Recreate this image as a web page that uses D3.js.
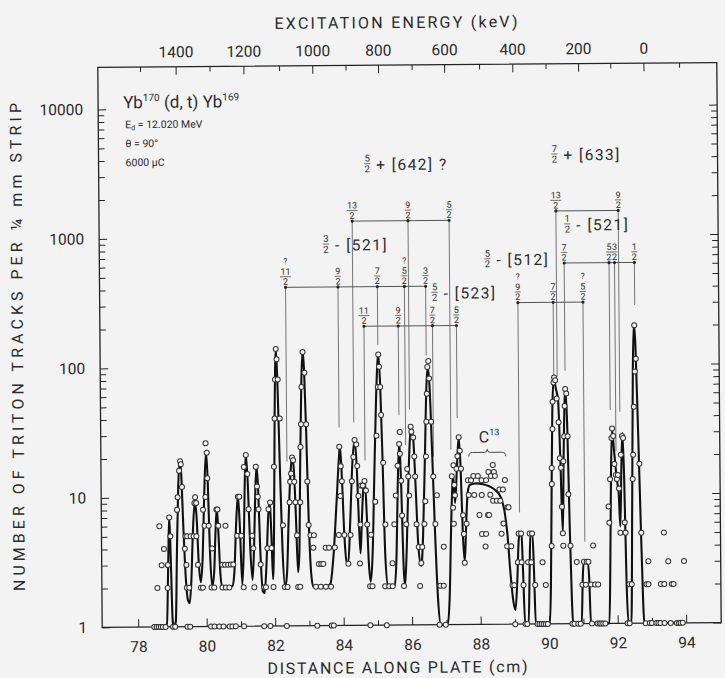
<!DOCTYPE html>
<html><head><meta charset="utf-8">
<script src="https://cdn.jsdelivr.net/npm/d3@7"></script>
<style>
html,body{margin:0;padding:0;background:#f3f3f3;}
svg{display:block;}
text{font-family:Roboto,"DejaVu Sans",sans-serif;fill:#2b2b2b;}
</style></head><body>
<svg id="chart" width="725" height="678"></svg>
<script>
// ---------- DATA ----------
const xTickMajor = [78,80,82,84,86,88,90,92,94];
const xTickMinor = [79,81,83,85,87,89,91,93];
const yTickMajor = [1,10,100,1000,10000];
const yTickMinor = [2,3,4,5,6,7,8,9,20,30,40,50,60,70,80,90,200,300,400,500,600,700,800,900,2000,3000,4000,5000,6000,7000,8000,9000];
const energyTicks = [1500,1400,1300,1200,1100,1000,900,800,700,600,500,400,300,200,100,0,-100];
const energyCm = [78.18,79.22,80.21,81.20,82.24,83.21,84.18,85.13,86.11,87.06,88.08,89.05,90.02,90.97,91.91,92.88,93.92];
const energyLabels = [1400,1200,1000,800,600,400,200,0];

// fitted curve (cm, counts)
const curveNodes = [
[78.70,1],[78.84,1.05],[78.89,3],[78.93,7.2],[78.97,3],[79.01,1.1],[79.05,1],
[79.10,1.1],[79.15,4],[79.20,12],[79.25,19.4],[79.29,15],[79.34,6],[79.40,2.4],[79.46,1.6],[79.51,1.52],[79.56,2.2],[79.62,5.5],[79.68,9.2],[79.73,7],[79.78,3.2],[79.84,2.2],[79.90,3.5],[79.96,11],[80.02,22.4],[80.06,14],[80.11,4],[80.17,2.04],[80.23,2.6],[80.28,5.5],[80.32,8.2],[80.36,5.5],[80.41,2.6],[80.46,2.05],[80.60,2.0],[80.76,2.05],[80.82,2.6],[80.88,6],[80.94,10.2],[80.99,6],[81.05,2.1],[81.10,4],[81.14,12],[81.18,21.3],[81.23,13],[81.29,4],[81.35,2.27],[81.40,4],[81.45,11],[81.49,17.2],[81.53,12],[81.58,4],[81.65,1.85],[81.70,1.8],[81.76,3],[81.82,7],[81.87,9.1],[81.91,5],[81.95,2.3],[81.99,6],[82.03,40],[82.08,139],[82.12,75],[82.17,18],[82.23,4],[82.30,2.0],[82.36,2.6],[82.42,7],[82.48,15],[82.54,20.3],[82.58,16],[82.63,7],[82.68,2.6],[82.72,3.5],[82.77,20],[82.82,80],[82.86,133],[82.90,95],[82.95,30],[83.00,7],[83.06,2.6],[83.12,2.0],[83.50,2.0],[83.62,2.1],[83.72,3.5],[83.82,9],[83.90,20],[83.93,24.3],[83.98,14],[84.04,5],[84.10,3.1],[84.15,3.05],[84.21,6],[84.29,18],[84.36,27],[84.42,16],[84.47,6],[84.51,3.6],[84.56,7],[84.61,12],[84.65,13.2],[84.70,7],[84.75,3],[84.80,2.17],[84.86,3.5],[84.93,15],[85.00,60],[85.07,124],[85.12,70],[85.17,20],[85.23,3.5],[85.30,2.05],[85.50,2.0],[85.56,3.5],[85.61,12],[85.66,25.3],[85.71,12],[85.76,3],[85.80,2.0],[85.86,4],[85.93,15],[86.01,33.6],[86.07,28],[86.13,12],[86.20,4],[86.28,2.85],[86.34,5],[86.41,20],[86.47,70],[86.51,98.4],[86.56,70],[86.62,22],[86.69,5],[86.76,1.6],[86.84,1.0],[87.04,1.0],[87.10,1.6],[87.17,7],[87.23,14.3],[87.28,8.7],[87.34,16],[87.40,28.2],[87.45,16],[87.50,5],[87.55,3.06],[87.60,6],[87.65,10.5],[87.72,12],[87.90,12.3],[88.10,12.1],[88.30,11.6],[88.50,10.6],[88.62,9.5],[88.72,7.5],[88.80,5],[88.88,2.5],[88.96,1.5],[89.02,1.29],[89.08,2.2],[89.13,4.5],[89.17,5.08],[89.21,5],[89.25,2.5],[89.30,1.0],[89.40,1.0],[89.44,2.5],[89.47,5],[89.53,5],[89.57,2.5],[89.61,1.0],[90.02,1.0],[90.06,2],[90.10,10],[90.14,45],[90.19,78.8],[90.25,65],[90.31,53.5],[90.36,20],[90.42,5.0],[90.46,20],[90.52,63.9],[90.57,35],[90.62,6],[90.67,1.5],[90.70,1.0],[90.95,1.0],[90.99,2.2],[91.02,3.0],[91.14,3.0],[91.18,2.2],[91.22,1.0],[91.76,1.0],[91.80,3],[91.84,15],[91.88,31.5],[91.93,22],[92.01,12.8],[92.06,10],[92.10,5.6],[92.14,15],[92.18,29.6],[92.22,14],[92.27,2],[92.32,1.0],[92.40,1.0],[92.45,8],[92.50,90],[92.54,208],[92.58,140],[92.64,30],[92.71,4],[92.78,1.0],[93.90,1.0]
];

// measured points (cm, counts); 0 = empty strip, drawn on the axis
const zeroCm = [78.47,78.54,78.60,78.66,78.72,78.80,79.02,79.08,79.44,79.52,80.13,80.23,80.37,80.49,80.67,80.75,80.85,81.09,81.68,81.86,82.34,83.23,83.65,83.71,84.78,85.26,86.80,86.98,89.01,89.31,89.36,89.66,89.72,89.78,89.84,89.90,89.96,90.68,90.74,90.85,90.92,91.25,91.41,91.47,91.52,91.58,91.64,92.29,92.35,92.82,92.94,93.00,93.13,93.19,93.25,93.37,93.55,93.73,93.79,93.84,93.90];
const countPoints = [
[78.57,2],[78.64,6],[78.70,3],[78.77,4],[78.87,2],[78.88,3],[78.93,7],[78.96,5],
[79.16,8],[79.18,10],[79.23,16],[79.26,19],[79.28,18],[79.31,12],
[79.38,4],[79.40,5],[79.45,5],[79.42,3],[79.43,2],[79.50,2],[79.55,5],
[79.64,5],[79.67,9],[79.69,10],[79.72,9],[79.72,5],[79.76,3],[79.84,2],[79.90,2],
[79.92,8],[79.96,6],[79.99,10],[80.01,26],[80.04,22],[80.05,14],[80.08,6],[80.15,2],[80.18,4],[80.23,2],
[80.31,8],[80.34,8],[80.36,6],
[80.47,3],[80.55,3],[80.64,3],[80.72,3],[80.79,3],[80.47,2],[80.57,2],[80.67,2],[80.57,6],
[80.91,5],[80.94,10],[80.98,10],[81.03,5],[81.09,2],
[81.12,17],[81.18,21],[81.22,15],[81.25,8],[81.35,5],[81.38,4],[81.40,2],
[81.47,17],[81.50,12],[81.52,10],[81.54,8],[81.59,3],[81.69,2],[81.74,2],
[81.79,4],[81.83,8],[81.88,9],[81.91,4],[81.96,2],
[82.00,17],[82.03,40],[82.05,80],[82.08,138],[82.10,115],[82.13,80],[82.18,40],[82.25,6],[82.29,2],[82.37,2],
[82.45,9],[82.47,13],[82.50,15],[82.53,20],[82.56,19],[82.59,13],[82.62,9],[82.66,5],[82.68,2],[82.74,2],
[82.76,9],[82.78,24],[82.80,36],[82.82,70],[82.86,130],[82.91,90],[82.95,36],[82.97,13],[83.00,6],[83.05,5],
[83.13,4],[83.15,5],[83.20,2],[83.29,3],[83.36,3],[83.42,3],[83.49,4],[83.59,4],[83.34,2],[83.49,2],[83.64,2],
[83.76,4],[83.88,5],[83.91,24],[83.93,10],[83.95,17],[83.98,13],[84.04,5],[84.15,3],
[84.22,5],[84.27,13],[84.32,20],[84.36,27],[84.41,25],[84.43,17],[84.46,10],[84.51,6],[84.49,3],
[84.54,12],[84.59,12],[84.64,13],[84.68,11],[84.71,6],[84.82,5],[84.78,2],[84.85,2],
[84.95,9],[85.00,29],[85.05,69],[85.07,123],[85.09,99],[85.12,69],[85.14,42],[85.19,18],[85.24,6],[85.22,2],[85.34,2],[85.44,2],[85.44,3],
[85.50,6],[85.55,10],[85.61,17],[85.66,25],[85.68,31],[85.68,21],[85.71,13],[85.73,7],[85.77,2],
[85.85,6],[85.89,16],[85.92,14],[85.94,10],[86.00,34],[86.02,31],[86.07,28],[86.10,20],[86.12,14],[86.15,6],
[86.21,4],[86.31,4],[86.24,2],[86.28,3],
[86.38,6],[86.41,9],[86.44,20],[86.46,37],[86.48,61],[86.50,98],[86.53,109],[86.55,80],[86.60,37],[86.65,14],[86.70,6],[86.75,10],
[86.83,2],[86.93,2],[86.94,4],
[87.19,14],[87.22,8],[87.24,17],[87.24,6],[87.26,12],[87.28,10],[87.33,16],[87.36,20],[87.40,28],[87.43,22],[87.46,16],[87.51,7],[87.53,5],[87.55,3],[87.61,6],
[87.66,13],[87.68,10],[87.75,13],[87.82,14],[87.84,10],[87.95,14],[87.99,7],[88.06,13],[88.06,10],[88.06,5],[88.16,4],[88.18,5],[88.19,13],[88.24,7],[88.27,7],[88.26,15],[88.31,10],[88.33,14],[88.39,17],[88.39,9],[88.42,15],[88.45,14],[88.50,9],[88.58,11],[88.60,9],[88.63,5],[88.68,11],[88.69,6],[88.74,13],[88.79,4],[88.81,8],[88.84,8],[88.91,4],[88.94,2],[88.99,2],
[89.10,3],[89.13,5],[89.20,5],[89.21,3],[89.26,2],[89.40,3],[89.45,5],[89.52,5],[89.49,3],[89.60,2],[89.82,3],[89.91,2],
[90.09,4],[90.11,12],[90.11,16],[90.14,32],[90.15,52],[90.18,73],[90.20,80],[90.23,76],[90.27,55],[90.32,36],[90.35,19],[90.38,16],[90.40,8],[90.42,5],[90.43,4],
[90.45,18],[90.48,28],[90.50,48],[90.52,65],[90.55,60],[90.58,28],[90.59,10],[90.64,4],[90.82,3],
[90.98,2],[91.03,3],[91.11,3],[91.16,3],[91.08,2],[91.23,2],[91.30,4],[91.35,2],[91.44,2],
[91.76,8],[91.78,6],[91.81,13],[91.86,27],[91.88,32],[91.91,28],[91.94,17],[91.98,14],[92.01,13],[92.04,14],[92.07,11],[92.10,5],[92.13,20],[92.17,28],[92.20,27],[92.23,6],[92.25,5],[92.35,2],[92.42,2],
[92.47,13],[92.49,20],[92.52,47],[92.56,88],[92.59,110],[92.55,200],[92.67,17],[92.71,5],
[92.85,2],[92.91,2],[92.91,3],[93.27,2],[93.37,2],[93.37,5],[93.49,3],[93.59,2],[93.64,2],[93.95,3]
];

// level scheme annotations
const bandNum = ["5","5","3","7","1","5"];
const bandText = ["+ [642] ?","- [523]","- [521]","+ [633]","- [521]","- [512]"];
const bandCount = [1325, 412, 204, 1543, 611, 304];           // height of the band bar
const bandLabelCm = [84.79, 86.73, 83.57, 90.26, 90.62, 88.28];
const bandLabelCount = [3266, 329, 787, 3782, 1089, 592];
const levelBand = [0,0,0, 1,1,1,1,1, 2,2,2,2, 3,3, 4,4,4,4, 5,5,5];
const levelCm = [84.34,85.97,87.17, 82.38,83.91,85.06,85.85,86.47, 84.66,85.66,86.66,87.36, 90.29,92.11, 90.52,91.83,91.99,92.57, 89.16,90.19,91.06];
const levelSpin = ["13/2","9/2","5/2", "11/2","9/2","7/2","5/2","3/2", "11/2","9/2","7/2","5/2", "13/2","9/2", "7/2","5/2","3/2","1/2", "9/2","7/2","5/2"];
const levelEnd = [37,46,22.5, 18.6,33.8,146,24.5,120, 18.8,41.8,19.9,39.4, 81,43, 90,44.4,21.3,287, 7.3,78,4.3];
const levelQuery = [0,0,0, 1,0,0,1,0, 0,0,0,0, 0,0, 0,0,0,0, 1,0,1];
const c13Range = [87.69, 88.77];
const c13Count = 21.3;

// ---------- DRAW ----------
const W=725,H=678;
const frame={l:100,r:719,t:65,b:625};
const x=d3.scaleLinear().domain([78,94]).range([136,684]);
const y=d3.scaleLog().domain([1,10000]).range([625,107]);
const eScale=d3.scaleLinear().domain(energyTicks).range(energyCm.map(c=>x(c)));
const ink="#232323";

const svg=d3.select('#chart');
svg.append('rect').attr('width',W).attr('height',H).attr('fill','#f3f3f3');
const g=svg.append('g').attr('transform','rotate(-0.45,408,345)');

function styleAxis(sel,fs){
  sel.select('.domain').remove();
  sel.attr('font-family',null).attr('font-size',null);
  sel.selectAll('line').attr('stroke',ink).attr('stroke-width',1);
  sel.selectAll('text').attr('font-size',fs).attr('fill','#2b2b2b');
}
// bottom
g.append('g').attr('transform',`translate(0,${frame.b})`)
 .call(d3.axisBottom(x).tickValues(xTickMajor).tickSize(-8).tickPadding(14).tickFormat(d3.format('d'))).call(s=>styleAxis(s,15.5));
g.append('g').attr('transform',`translate(0,${frame.b})`)
 .call(d3.axisBottom(x).tickValues(xTickMinor).tickSize(-5).tickFormat('')).call(s=>styleAxis(s,15.5));
// top (energy)
g.append('g').attr('transform',`translate(0,${frame.t})`)
 .call(d3.axisTop(eScale).tickValues(energyLabels).tickSize(-8).tickPadding(9.5).tickFormat(d3.format('d'))).call(s=>styleAxis(s,15.5));
g.append('g').attr('transform',`translate(0,${frame.t})`)
 .call(d3.axisTop(eScale).tickValues(energyTicks.filter(e=>!energyLabels.includes(e))).tickSize(-5).tickFormat('')).call(s=>styleAxis(s,15.5));
// left
g.append('g').attr('transform',`translate(${frame.l},0)`)
 .call(d3.axisLeft(y).tickValues(yTickMajor).tickSize(-8).tickPadding(15).tickFormat(d3.format('d'))).call(s=>styleAxis(s,15.5));
g.append('g').attr('transform',`translate(${frame.l},0)`)
 .call(d3.axisLeft(y).tickValues(yTickMinor).tickSize(-6).tickFormat('')).call(s=>styleAxis(s,15.5));
// right
g.append('g').attr('transform',`translate(${frame.r},0)`)
 .call(d3.axisRight(y).tickValues(yTickMajor).tickSize(-8).tickFormat('')).call(s=>styleAxis(s,15.5));
g.append('g').attr('transform',`translate(${frame.r},0)`)
 .call(d3.axisRight(y).tickValues(yTickMinor).tickSize(-6).tickFormat('')).call(s=>styleAxis(s,15.5));

// frame
g.append('rect').attr('x',frame.l).attr('y',frame.t).attr('width',frame.r-frame.l).attr('height',frame.b-frame.t)
 .attr('fill','none').attr('stroke',ink).attr('stroke-width',1.3);

// annotation lines
const ann=g.append('g');
bandCount.forEach((c,i)=>{
  const xs=levelCm.filter((_,j)=>levelBand[j]===i).map(v=>x(v));
  ann.append('line').attr('x1',d3.min(xs)).attr('x2',d3.max(xs)).attr('y1',y(c)).attr('y2',y(c))
    .attr('stroke','#444').attr('stroke-width',0.9);
});
function frac(sel,cx,base,num,den,fs,sw){
  sel.append('text').attr('x',cx).attr('y',base-fs*1.12).attr('text-anchor','middle').attr('font-size',fs).text(num);
  const w=Math.max(num.length,den.length)*fs*0.55+1;
  sel.append('line').attr('x1',cx-w/2).attr('x2',cx+w/2).attr('y1',base-fs*0.9).attr('y2',base-fs*0.9).attr('stroke','#333').attr('stroke-width',sw||0.7);
  sel.append('text').attr('x',cx).attr('y',base).attr('text-anchor','middle').attr('font-size',fs).text(den);
}
levelCm.forEach((c,j)=>{
  const yy=y(bandCount[levelBand[j]]);
  ann.append('line').attr('x1',x(c)).attr('x2',x(c)).attr('y1',yy).attr('y2',y(levelEnd[j]))
    .attr('stroke','#555').attr('stroke-width',0.8);
  ann.append('circle').attr('cx',x(c)).attr('cy',yy).attr('r',1.6).attr('fill',ink);
  const [n,d]=levelSpin[j].split('/');
  frac(ann,x(c),yy-2.5,n,d,9);
  if(levelQuery[j]) ann.append('text').attr('x',x(c)).attr('y',yy-23).attr('text-anchor','middle').attr('font-size',8.5).text('?');
});
bandText.forEach((t,i)=>{
  const cx=x(bandLabelCm[i]), b=y(bandLabelCount[i]);
  frac(ann,cx,b+2,bandNum[i],"2",9.5);
  ann.append('text').attr('x',cx+9).attr('y',b).attr('font-size',15.5).attr('letter-spacing',1.5).text(t);
});
// C13 brace + label
{
  const x0=x(c13Range[0]), x1=x(c13Range[1]), xm=(x0+x1)/2, yb=y(c13Count);
  ann.append('path').attr('d',`M${x0},${yb+4} Q${x0},${yb} ${x0+4},${yb} L${xm-3},${yb} Q${xm},${yb} ${xm},${yb-3} Q${xm},${yb} ${xm+3},${yb} L${x1-4},${yb} Q${x1},${yb} ${x1},${yb+4}`)
    .attr('fill','none').attr('stroke','#333').attr('stroke-width',0.9);
  const t=ann.append('text').attr('x',xm+2).attr('y',yb-10).attr('text-anchor','middle').attr('font-size',16);
  t.append('tspan').text('C');
  t.append('tspan').attr('font-size',9).attr('dy',-7).text('13');
}

// curve
const line=d3.line().x(d=>x(d[0])).y(d=>y(d[1])).curve(d3.curveMonotoneX);
g.append('path').datum(curveNodes).attr('d',line).attr('fill','none').attr('stroke','#111').attr('stroke-width',2.1).attr('stroke-linejoin','round');

// points
const pts=g.append('g');
pts.selectAll('circle.z').data(zeroCm).join('circle').attr('class','z')
  .attr('cx',d=>x(d)).attr('cy',y(1)).attr('r',2.5).attr('fill','#f3f3f3').attr('stroke','#333').attr('stroke-width',1);
pts.selectAll('circle.p').data(countPoints).join('circle').attr('class','p')
  .attr('cx',d=>x(d[0])).attr('cy',d=>y(d[1])).attr('r',2.5).attr('fill','#f3f3f3').attr('stroke','#333').attr('stroke-width',1);

// titles
g.append('text').attr('x',277).attr('y',28).attr('font-size',16).attr('textLength',243).attr('lengthAdjust','spacing').text('EXCITATION ENERGY (keV)');
g.append('text').attr('x',265).attr('y',673).attr('font-size',16).attr('textLength',260).attr('lengthAdjust','spacing').text('DISTANCE ALONG PLATE (cm)');
g.append('text').attr('transform','translate(23,588) rotate(-90)').attr('font-size',16).attr('textLength',488).attr('lengthAdjust','spacing').text('NUMBER OF TRITON TRACKS PER ¼ mm STRIP');

// reaction info
{
  const t=g.append('text').attr('x',125).attr('y',106).attr('font-size',17);
  t.append('tspan').text('Yb');
  t.append('tspan').attr('font-size',10).attr('dy',-7).text('170');
  t.append('tspan').attr('dy',7).text(' (d, t) Yb');
  t.append('tspan').attr('font-size',10).attr('dy',-7).text('169');
  const e=g.append('text').attr('x',127).attr('y',126).attr('font-size',10.5);
  e.append('tspan').text('E');
  e.append('tspan').attr('font-size',7).attr('dy',2).text('d');
  e.append('tspan').attr('dy',-2).text('  = 12.020  MeV');
  g.append('text').attr('x',127).attr('y',145).attr('font-size',10.5).text('θ    = 90°');
  g.append('text').attr('x',127).attr('y',164).attr('font-size',10.5).text('6000  μC');
}
</script>
</body></html>
